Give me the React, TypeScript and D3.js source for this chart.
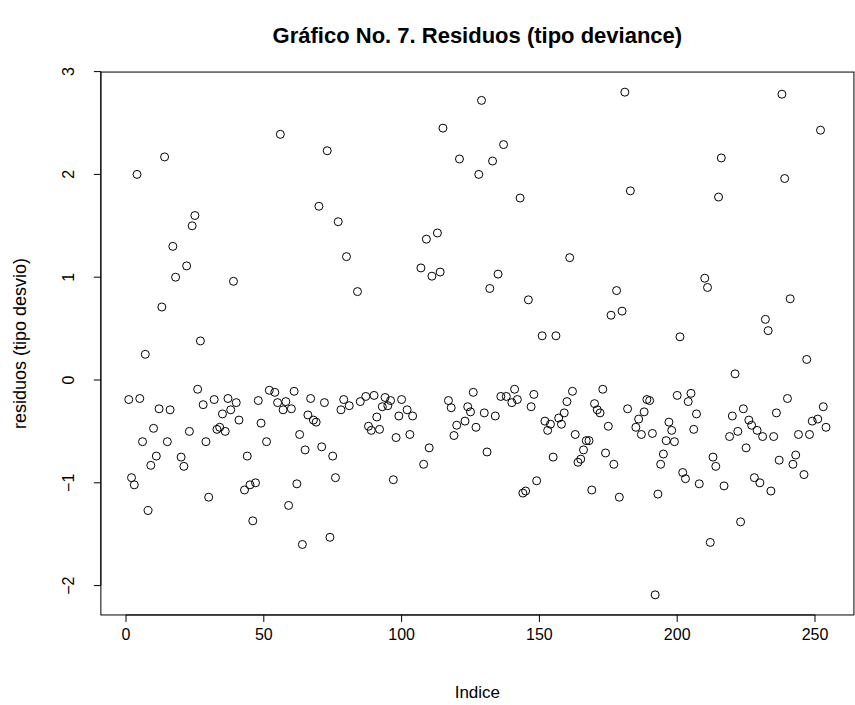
import React from "react";
import * as d3 from "d3";

const idx: number[] = [
  1,2,3,4,5,6,7,8,9,10,11,12,13,14,15,16,17,18,20,21,22,23,24,25,26,27,28,29,30,
  32,33,34,35,36,37,38,39,40,41,43,44,45,46,47,48,49,51,52,54,55,56,57,58,59,60,
  61,62,63,64,65,66,67,68,69,70,71,72,73,74,75,76,77,78,79,80,81,84,85,87,88,89,
  90,91,92,93,94,95,96,97,98,99,100,102,103,104,107,108,109,110,111,113,114,115,
  117,118,119,120,121,123,124,125,126,127,128,129,130,131,132,133,134,135,136,137,
  138,140,141,142,143,144,145,146,147,148,149,151,152,153,154,155,156,157,158,159,
  160,161,162,163,164,165,166,167,168,169,170,171,172,173,174,175,176,177,178,179,
  180,181,182,183,185,186,187,188,189,190,191,192,193,194,195,196,197,198,199,200,
  201,202,203,204,205,206,207,208,210,211,212,213,214,215,216,217,219,220,221,222,
  223,224,225,226,227,228,229,230,231,232,233,234,235,236,237,238,239,240,241,242,
  243,244,246,247,248,249,251,252,253,254
];

const residuos: number[] = [
  -0.19,-0.95,-1.02,2.00,-0.18,-0.60,0.25,-1.27,-0.83,-0.47,-0.74,-0.28,0.71,2.17,-0.60,-0.29,1.30,1.00,-0.75,-0.84,1.11,-0.50,1.50,1.60,-0.09,0.38,-0.24,-0.60,-1.14,
  -0.19,-0.48,-0.46,-0.33,-0.50,-0.18,-0.29,0.96,-0.22,-0.39,-1.07,-0.74,-1.02,-1.37,-1.00,-0.20,-0.42,-0.60,-0.10,-0.12,-0.22,2.39,-0.29,-0.21,-1.22,-0.28,
  -0.11,-1.01,-0.53,-1.60,-0.68,-0.34,-0.18,-0.39,-0.41,1.69,-0.65,-0.22,2.23,-1.53,-0.74,-0.95,1.54,-0.29,-0.19,1.20,-0.25,0.86,-0.21,-0.16,-0.45,-0.49,
  -0.15,-0.36,-0.48,-0.26,-0.17,-0.25,-0.20,-0.97,-0.56,-0.35,-0.19,-0.29,-0.53,-0.35,1.09,-0.82,1.37,-0.66,1.01,1.43,1.05,2.45,
  -0.20,-0.27,-0.54,-0.44,2.15,-0.40,-0.26,-0.31,-0.12,-0.46,2.00,2.72,-0.32,-0.70,0.89,2.13,-0.35,1.03,-0.16,2.29,
  -0.16,-0.22,-0.09,-0.19,1.77,-1.10,-1.08,0.78,-0.26,-0.14,-0.98,0.43,-0.40,-0.49,-0.43,-0.75,0.43,-0.37,-0.43,-0.32,
  -0.21,1.19,-0.11,-0.53,-0.80,-0.77,-0.68,-0.59,-0.59,-1.07,-0.23,-0.29,-0.32,-0.09,-0.71,-0.45,0.63,-0.82,0.87,-1.14,
  0.67,2.80,-0.28,1.84,-0.46,-0.38,-0.53,-0.31,-0.19,-0.20,-0.52,-2.09,-1.11,-0.82,-0.72,-0.59,-0.41,-0.49,-0.60,-0.15,
  0.42,-0.90,-0.96,-0.21,-0.13,-0.48,-0.33,-1.01,0.99,0.90,-1.58,-0.75,-0.84,1.78,2.16,-1.03,-0.55,-0.35,0.06,-0.50,
  -1.38,-0.28,-0.66,-0.39,-0.44,-0.95,-0.49,-1.00,-0.55,0.59,0.48,-1.08,-0.55,-0.32,-0.78,2.78,1.96,-0.18,0.79,-0.82,
  -0.73,-0.53,-0.92,0.20,-0.53,-0.40,-0.38,2.43,-0.26,-0.46
];

const xTicks: number[] = [0, 50, 100, 150, 200, 250];
const yTicks: number[] = [-2, -1, 0, 1, 2, 3];

const title = "Gráfico No. 7. Residuos (tipo deviance)";
const xLabel = "Indice";
const yLabel = "residuos (tipo desvio)";

export default function App() {
  const W = 855, H = 705;
  const x = d3.scaleLinear().domain([0, 250]).range([126, 815]);
  const y = d3.scaleLinear().domain([-2, 3]).range([585.6, 71.6]);
  const n = d3.max(idx) as number;
  const lo = d3.min(idx) as number;
  const xr = n - lo;
  const xMin = lo - 0.04 * xr, xMax = n + 0.04 * xr;
  const yLo = d3.min(residuos) as number, yHi = d3.max(residuos) as number;
  const yr = yHi - yLo;
  const yMin = yLo - 0.04 * yr, yMax = yHi + 0.04 * yr;
  const bx0 = x(xMin), bx1 = x(xMax), by0 = y(yMax), by1 = y(yMin);
  const font = "'Liberation Sans', Arial, Helvetica, sans-serif";
  const fmt = (v: number) => (v < 0 ? "\u2212" + Math.abs(v) : String(v));
  const pts = idx.map((d, i) => ({ i: d, v: residuos[i] }));
  return (
    <div style={{ position: "absolute", left: 0, top: 0 }}>
      <svg width={W} height={H} style={{ display: "block", background: "#fff" }} fontFamily={font}>
        <rect x={0} y={0} width={W} height={H} fill="#fff" />
        <text x={(bx0 + bx1) / 2} y={43} textAnchor="middle" fontWeight="bold" fontSize={22}>{title}</text>
        <rect x={bx0} y={by0} width={bx1 - bx0} height={by1 - by0} fill="none" stroke="#000" strokeWidth={1} />
        <line x1={x(xTicks[0])} x2={x(xTicks[xTicks.length - 1])} y1={by1} y2={by1} stroke="#000" />
        {xTicks.map((t) => (
          <g key={"xt" + t}>
            <line x1={x(t)} x2={x(t)} y1={by1} y2={by1 + 7} stroke="#000" />
            <text x={x(t)} y={by1 + 25} textAnchor="middle" fontSize={16}>{t}</text>
          </g>
        ))}
        <line x1={bx0} x2={bx0} y1={y(yTicks[0])} y2={y(yTicks[yTicks.length - 1])} stroke="#000" />
        {yTicks.map((t) => (
          <g key={"yt" + t}>
            <line x1={bx0} x2={bx0 - 7} y1={y(t)} y2={y(t)} stroke="#000" />
            <text transform={`translate(${bx0 - 27},${y(t)}) rotate(-90)`} textAnchor="middle" fontSize={16}>{fmt(t)}</text>
          </g>
        ))}
        <text x={(bx0 + bx1) / 2} y={698} textAnchor="middle" fontSize={17}>{xLabel}</text>
        <text transform={`translate(26,${(by0 + by1) / 2}) rotate(-90)`} textAnchor="middle" fontSize={18}>{yLabel}</text>
        {pts.map((p, k) => (
          <circle key={k} cx={x(p.i)} cy={y(p.v)} r={4} fill="none" stroke="#000" strokeWidth={1} />
        ))}
      </svg>
    </div>
  );
}
